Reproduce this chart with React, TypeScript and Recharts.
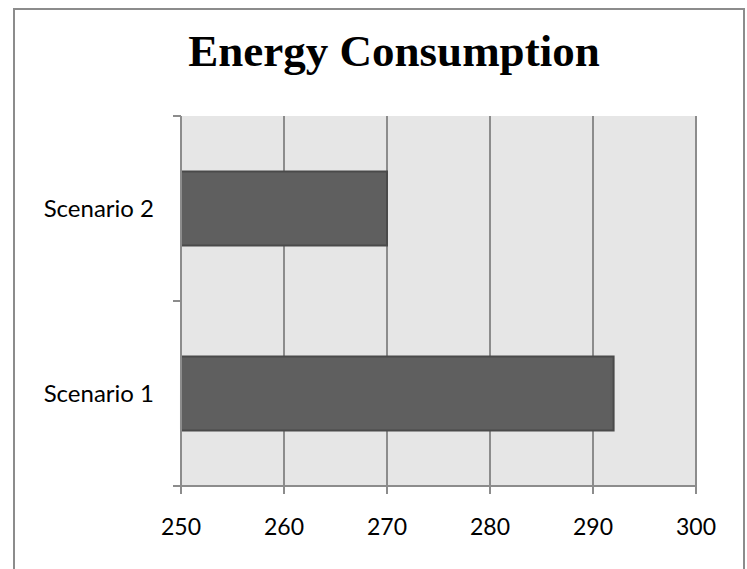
import React from "react";
import { BarChart, Bar, XAxis, YAxis, CartesianGrid } from "recharts";

const categories = ["Scenario 2", "Scenario 1"];
const consumption = [270, 292];
const xTicks = [250, 260, 270, 280, 290, 300];
const xDomain: [number, number] = [250, 300];

const data = categories.map((name, i) => ({ name, value: consumption[i] }));

const SVG_W = 728;
const SVG_H = 559;
const MARGIN = { top: 106, right: 47, left: 0, bottom: 43 };
const Y_AXIS_W = 166;
const X_AXIS_H = 40;
const PLOT_H = SVG_H - MARGIN.top - MARGIN.bottom - X_AXIS_H;
const BAND = PLOT_H / categories.length;
const GRAY = "#8c8c8c";
const TICK_FONT = "Lato, 'Open Sans', sans-serif";

const YTick = (props: any) => {
  const { x, y, payload, index } = props;
  const axisX = MARGIN.left + Y_AXIS_W;
  return (
    <g>
      <line x1={axisX - 8} x2={axisX} y1={y - BAND / 2} y2={y - BAND / 2} stroke={GRAY} strokeWidth={2} />
      {index === categories.length - 1 && (
        <line x1={axisX - 8} x2={axisX} y1={y + BAND / 2} y2={y + BAND / 2} stroke={GRAY} strokeWidth={2} />
      )}
      <text x={x} y={y} dy="0.35em" textAnchor="end" fill="#000" fontSize={24} fontFamily={TICK_FONT}>
        {payload.value}
      </text>
    </g>
  );
};

export default function App() {
  return (
    <div
      style={{
        position: "fixed",
        left: 13,
        top: 8,
        width: 732,
        height: 561,
        boxSizing: "border-box",
        border: `2px solid ${GRAY}`,
        borderBottom: "none",
        background: "#fff",
      }}
    >
      <div
        style={{
          position: "absolute",
          left: 79,
          top: 19,
          width: 600,
          textAlign: "center",
          fontFamily: "'Liberation Serif', 'Times New Roman', serif",
          fontWeight: "bold",
          fontSize: 45,
          lineHeight: "45px",
          color: "#000",
          whiteSpace: "nowrap",
        }}
      >
        Energy Consumption
      </div>
      <BarChart
        width={SVG_W}
        height={SVG_H}
        data={data}
        layout="vertical"
        margin={MARGIN}
        barCategoryGap="30%"
      >
        <CartesianGrid horizontal={false} fill="#e6e6e6" stroke={GRAY} strokeWidth={2} />
        <XAxis
          type="number"
          domain={xDomain}
          ticks={xTicks}
          height={X_AXIS_H}
          axisLine={{ stroke: GRAY, strokeWidth: 2 }}
          tickLine={{ stroke: GRAY, strokeWidth: 2 }}
          tickSize={8}
          tickMargin={25}
          tick={{ fill: "#000", fontSize: 23, fontFamily: TICK_FONT }}
          interval={0}
        />
        <YAxis
          type="category"
          dataKey="name"
          width={Y_AXIS_W}
          axisLine={{ stroke: GRAY, strokeWidth: 2 }}
          tickLine={false}
          tickSize={8}
          tickMargin={19}
          tick={<YTick />}
          interval={0}
        />
        <Bar dataKey="value" fill="#5f5f5f" stroke="#4a4a4a" strokeWidth={2} isAnimationActive={false} />
      </BarChart>
    </div>
  );
}
